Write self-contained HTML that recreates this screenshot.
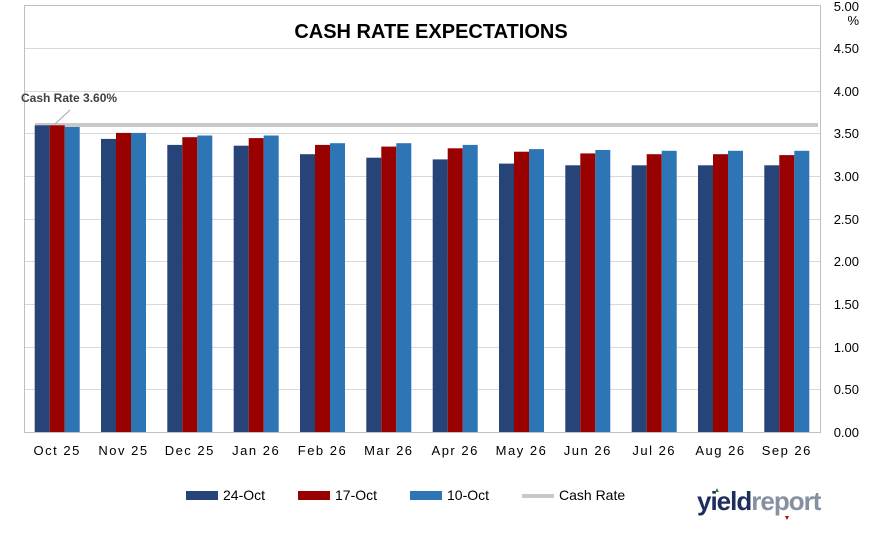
<!DOCTYPE html>
<html><head><meta charset="utf-8"><style>body{margin:0;background:#fff}svg{display:block}</style></head><body>
<svg width="869" height="533" xmlns="http://www.w3.org/2000/svg" font-family="Liberation Sans, sans-serif">
<rect width="869" height="533" fill="#fff"/>
<g stroke="#d9d9d9" stroke-width="1">
<line x1="24" y1="48.5" x2="820" y2="48.5"/><line x1="24" y1="91.5" x2="820" y2="91.5"/><line x1="24" y1="133.5" x2="820" y2="133.5"/><line x1="24" y1="176.5" x2="820" y2="176.5"/><line x1="24" y1="219.5" x2="820" y2="219.5"/><line x1="24" y1="261.5" x2="820" y2="261.5"/><line x1="24" y1="304.5" x2="820" y2="304.5"/><line x1="24" y1="347.5" x2="820" y2="347.5"/><line x1="24" y1="389.5" x2="820" y2="389.5"/>
</g>
<rect x="24.5" y="5.5" width="796" height="427" fill="none" stroke="#bfbfbf"/>
<text x="431" y="38" text-anchor="middle" font-size="20" font-weight="bold" fill="#000">CASH RATE EXPECTATIONS</text>
<line x1="35" y1="125" x2="818" y2="125" stroke="#c8c8c8" stroke-width="4"/>
<g fill="#264478">
<rect x="34.7" y="125.3" width="15" height="306.7"/><rect x="101" y="138.9" width="15" height="293.1"/><rect x="167.3" y="144.9" width="15" height="287.1"/><rect x="233.7" y="145.7" width="15" height="286.3"/><rect x="300" y="154.2" width="15" height="277.8"/><rect x="366.3" y="157.7" width="15" height="274.3"/><rect x="432.7" y="159.4" width="15" height="272.6"/><rect x="499" y="163.6" width="15" height="268.4"/><rect x="565.3" y="165.3" width="15" height="266.7"/><rect x="631.7" y="165.3" width="15" height="266.7"/><rect x="698" y="165.3" width="15" height="266.7"/><rect x="764.3" y="165.3" width="15" height="266.7"/>
</g>
<g fill="#990000">
<rect x="49.7" y="125.3" width="15" height="306.7"/><rect x="116" y="132.9" width="15" height="299.1"/><rect x="182.3" y="137.2" width="15" height="294.8"/><rect x="248.7" y="138.1" width="15" height="293.9"/><rect x="315" y="144.9" width="15" height="287.1"/><rect x="381.3" y="146.6" width="15" height="285.4"/><rect x="447.7" y="148.3" width="15" height="283.7"/><rect x="514" y="151.7" width="15" height="280.3"/><rect x="580.3" y="153.4" width="15" height="278.6"/><rect x="646.7" y="154.2" width="15" height="277.8"/><rect x="713" y="154.2" width="15" height="277.8"/><rect x="779.3" y="155.1" width="15" height="276.9"/>
</g>
<g fill="#2e75b6">
<rect x="64.7" y="127" width="15" height="305"/><rect x="131" y="132.9" width="15" height="299.1"/><rect x="197.3" y="135.5" width="15" height="296.5"/><rect x="263.7" y="135.5" width="15" height="296.5"/><rect x="330" y="143.2" width="15" height="288.8"/><rect x="396.3" y="143.2" width="15" height="288.8"/><rect x="462.7" y="144.9" width="15" height="287.1"/><rect x="529" y="149.1" width="15" height="282.9"/><rect x="595.3" y="150" width="15" height="282"/><rect x="661.7" y="150.8" width="15" height="281.2"/><rect x="728" y="150.8" width="15" height="281.2"/><rect x="794.3" y="150.8" width="15" height="281.2"/>
</g>
<line x1="55" y1="124" x2="70" y2="110" stroke="#a6a6a6" stroke-width="1"/>
<text x="21" y="102" font-size="12" font-weight="bold" fill="#404040">Cash Rate 3.60%</text>
<g font-size="13" fill="#000" text-anchor="end">
<text x="859" y="11">5.00</text><text x="859" y="25">%</text><text x="859" y="53">4.50</text><text x="859" y="96">4.00</text><text x="859" y="138">3.50</text><text x="859" y="181">3.00</text><text x="859" y="224">2.50</text><text x="859" y="266">2.00</text><text x="859" y="309">1.50</text><text x="859" y="352">1.00</text><text x="859" y="394">0.50</text><text x="859" y="437">0.00</text>
</g>
<g font-size="13" fill="#000" text-anchor="middle" letter-spacing="1.5">
<text x="57.2" y="455">Oct 25</text><text x="123.5" y="455">Nov 25</text><text x="189.8" y="455">Dec 25</text><text x="256.2" y="455">Jan 26</text><text x="322.5" y="455">Feb 26</text><text x="388.8" y="455">Mar 26</text><text x="455.2" y="455">Apr 26</text><text x="521.5" y="455">May 26</text><text x="587.8" y="455">Jun 26</text><text x="654.2" y="455">Jul 26</text><text x="720.5" y="455">Aug 26</text><text x="786.8" y="455">Sep 26</text>
</g>
<g font-size="14" fill="#000">
<rect x="186" y="491" width="32" height="9" fill="#264478"/><text x="223" y="500">24-Oct</text>
<rect x="298" y="491" width="32" height="9" fill="#990000"/><text x="335" y="500">17-Oct</text>
<rect x="410" y="491" width="32" height="9" fill="#2e75b6"/><text x="447" y="500">10-Oct</text>
<rect x="522" y="494" width="32" height="4" fill="#c8c8c8"/><text x="559" y="500">Cash Rate</text>
</g>
<text x="697" y="510" font-size="26" font-weight="bold" letter-spacing="-1"><tspan fill="#1f2d5c">yield</tspan><tspan fill="#8590a0">report</tspan></text>
<polygon points="715,492 719,492 717,488" fill="#2a8a3a"/>
<polygon points="785,516 789,516 787,520" fill="#cc0000"/>
</svg>
</body></html>
